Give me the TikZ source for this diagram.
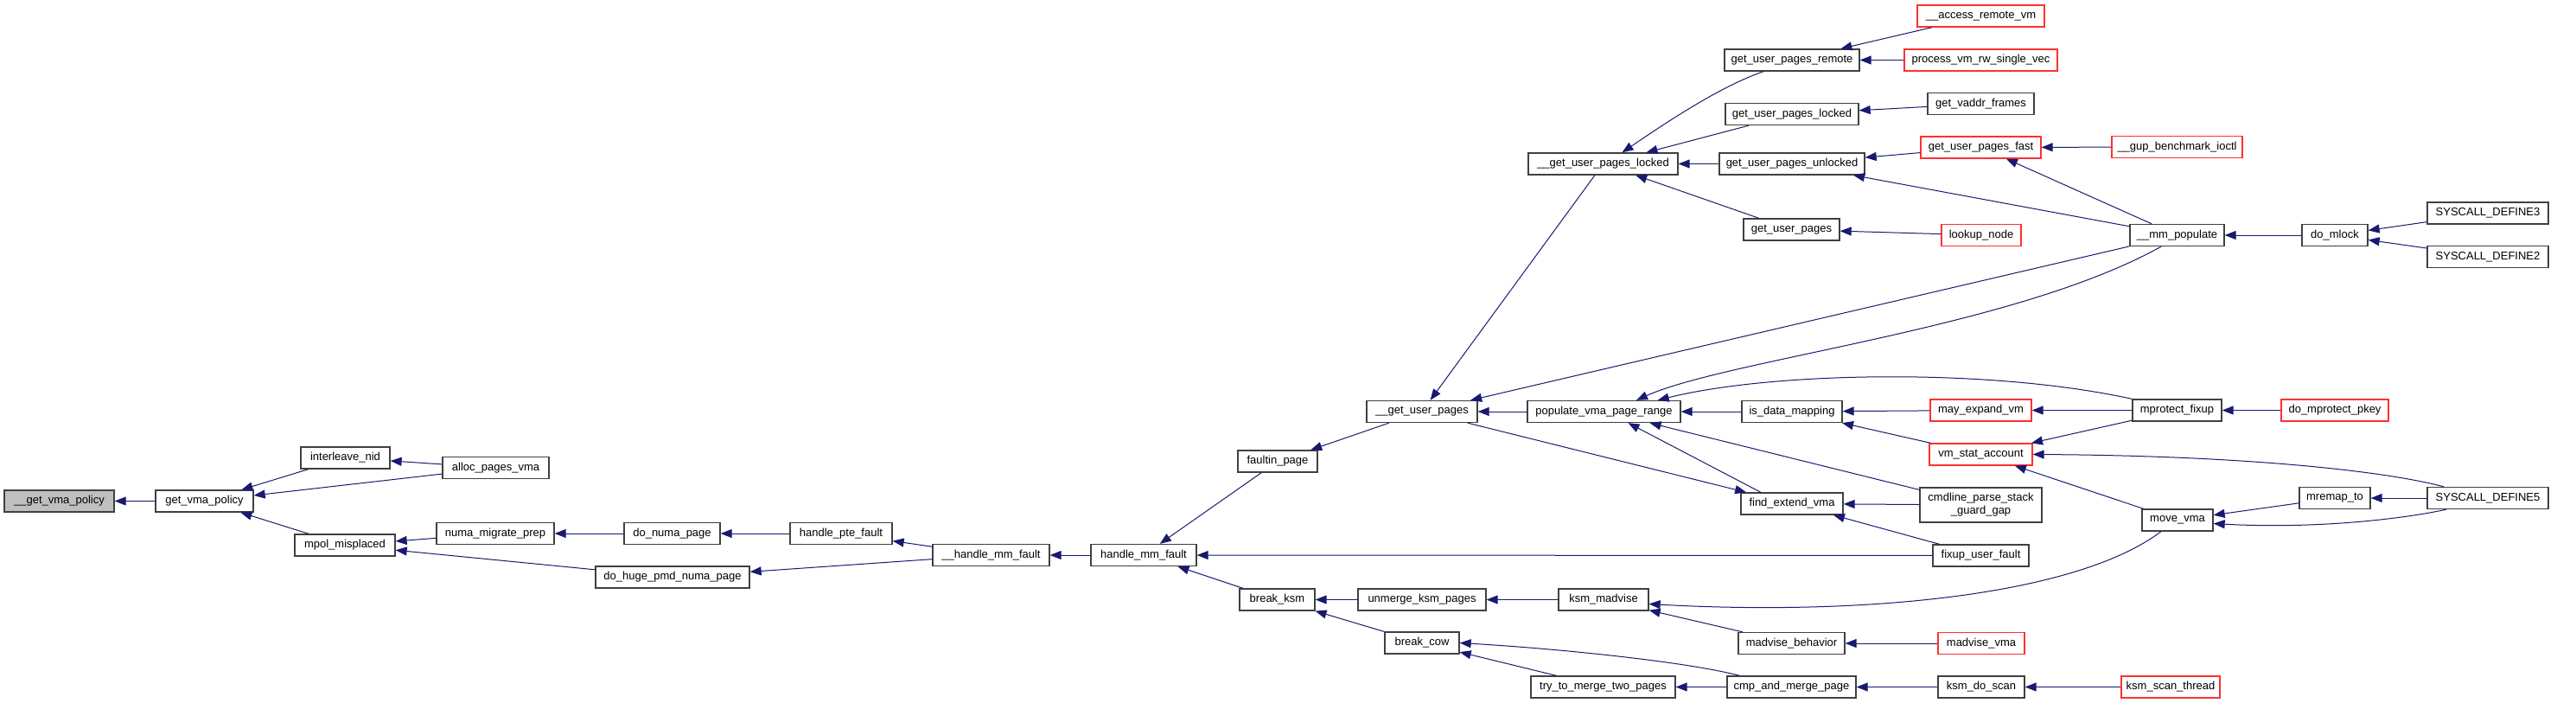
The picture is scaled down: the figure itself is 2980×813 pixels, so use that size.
\documentclass[tikz,border=0pt]{standalone}
\usepackage{fontspec}
\setmainfont{Liberation Sans}
\usetikzlibrary{arrows.meta}
\definecolor{edgeblue}{HTML}{191970}
\definecolor{rootgray}{HTML}{BFBFBF}
\definecolor{boxline}{HTML}{404040}
\definecolor{boxred}{HTML}{FF3030}
\begin{document}
\begin{tikzpicture}[x=1pt,y=-1pt,
    fn/.style={draw=boxline, line width=1.3pt, fill=white, minimum height=25pt,
      inner sep=1pt, font=\fontsize{13}{15}\selectfont},
    fnred/.style={fn, draw=boxred},
    fnroot/.style={fn, fill=rootgray},
    edge/.style={draw=edgeblue, line width=1pt, {Triangle[length=13pt,width=10pt]}-}]
    \useasboundingbox (0,0) rectangle (2980,813);

    % left part
    \node[fnroot, minimum width=127pt] (gvp0) at (68.5,579.5) {\_\_get\_vma\_policy};
    \node[fn, minimum width=113pt] (gvp) at (236.5,579.5) {get\_vma\_policy};
    \node[fn, minimum width=103pt] (ilnid) at (399.5,529.5) {interleave\_nid};
    \node[fn, minimum width=116pt] (mpolm) at (399,630.5) {mpol\_misplaced};
    \node[fn, minimum width=123pt] (apv) at (573.5,541) {alloc\_pages\_vma};
    \node[fn, minimum width=136pt] (nmp) at (573,617) {numa\_migrate\_prep};
    \node[fn, minimum width=111pt] (dnp) at (777.5,617) {do\_numa\_page};
    \node[fn, minimum width=118pt] (hpf) at (973,617) {handle\_pte\_fault};
    \node[fn, minimum width=178pt] (dhpnp) at (778,667.5) {do\_huge\_pmd\_numa\_page};
    \node[fn, minimum width=135pt] (hmf0) at (1146.5,642) {\_\_handle\_mm\_fault};
    \node[fn, minimum width=122pt] (hmf) at (1323,642) {handle\_mm\_fault};
    \node[fn, minimum width=92pt] (fip) at (1478,533.5) {faultin\_page};
    \node[fn, minimum width=128pt] (gup0) at (1645,476) {\_\_get\_user\_pages};
    \node[fn, minimum width=177pt] (pvpr) at (1855.5,476) {populate\_vma\_page\_range};
    \node[fn, minimum width=87pt] (bksm) at (1477.5,693.5) {break\_ksm};
    \node[fn, minimum width=148pt] (ukp) at (1645,693.5) {unmerge\_ksm\_pages};
    \node[fn, minimum width=104pt] (kmad) at (1855,693.5) {ksm\_madvise};
    \node[fn, minimum width=86pt] (bcow) at (1645,743.5) {break\_cow};
    \node[fn, minimum width=167pt] (tmtp) at (1854.5,794.5) {try\_to\_merge\_two\_pages};

    % get_user_pages family
    \node[fn, minimum width=173pt] (gupl0) at (1854.5,189.5) {\_\_get\_user\_pages\_locked};
    \node[fnred, minimum width=147pt] (arvm) at (2291.5,18.5) {\_\_access\_remote\_vm};
    \node[fn, minimum width=156pt] (gupr) at (2073,69.5) {get\_user\_pages\_remote};
    \node[fnred, minimum width=177pt] (pvrsv) at (2291.5,69.5) {process\_vm\_rw\_single\_vec};
    \node[fn, minimum width=154pt] (gupl) at (2073,132) {get\_user\_pages\_locked};
    \node[fn, minimum width=123pt] (gvf) at (2291.5,120) {get\_vaddr\_frames};
    \node[fnred, minimum width=139pt] (gupf) at (2291.5,170.5) {get\_user\_pages\_fast};
    \node[fn, minimum width=168pt] (gupu) at (2073,189.5) {get\_user\_pages\_unlocked};
    \node[fn, minimum width=111pt] (gup) at (2072.5,265.5) {get\_user\_pages};
    \node[fnred, minimum width=92pt] (lkn) at (2292,272) {lookup\_node};
    \node[fnred, minimum width=151pt] (gbi) at (2518.5,170) {\_\_gup\_benchmark\_ioctl};
    \node[fn, minimum width=109pt] (mmp) at (2518.5,272) {\_\_mm\_populate};
    \node[fn, minimum width=76pt] (dml) at (2701,272) {do\_mlock};
    \node[fn, minimum width=140pt] (sd3) at (2878,246.5) {SYSCALL\_DEFINE3};
    \node[fn, minimum width=140pt] (sd2) at (2878,297) {SYSCALL\_DEFINE2};

    % vma part
    \node[fn, minimum width=116pt] (idm) at (2073,476) {is\_data\_mapping};
    \node[fnred, minimum width=117pt] (mev) at (2291.5,474.5) {may\_expand\_vm};
    \node[fnred, minimum width=119pt] (vsa) at (2291.5,525.5) {vm\_stat\_account};
    \node[fn, minimum width=118pt] (fev) at (2073,582.5) {find\_extend\_vma};
    \node[fn, minimum width=141pt, minimum height=40pt, align=center] (cpsg) at (2291.5,584)
        {cmdline\_parse\_stack\\\_guard\_gap};
    \node[fn, minimum width=111pt] (fuf) at (2291.5,642.5) {fixup\_user\_fault};
    \node[fn, minimum width=103pt] (mpf) at (2518.5,474.5) {mprotect\_fixup};
    \node[fnred, minimum width=124pt] (dmp) at (2701,474.5) {do\_mprotect\_pkey};
    \node[fn, minimum width=82pt] (mvv) at (2519,601.5) {move\_vma};
    \node[fn, minimum width=82pt] (mrt) at (2701,576) {mremap\_to};
    \node[fn, minimum width=140pt] (sd5) at (2878,576) {SYSCALL\_DEFINE5};

    % ksm part
    \node[fn, minimum width=123pt] (mbh) at (2072.5,744) {madvise\_behavior};
    \node[fnred, minimum width=100pt] (mvma) at (2292,744) {madvise\_vma};
    \node[fn, minimum width=149pt] (cmp) at (2072.5,794.5) {cmp\_and\_merge\_page};
    \node[fn, minimum width=100pt] (kds) at (2292,794.5) {ksm\_do\_scan};
    \node[fnred, minimum width=114pt] (kst) at (2511,794.5) {ksm\_scan\_thread};

    % calls
    \draw[edge] (gvp0) -- (gvp);
    \draw[edge] (gvp) -- (ilnid);
    \draw[edge] (gvp) -- (apv);
    \draw[edge] (gvp) -- (mpolm);
    \draw[edge] (ilnid) -- (apv);
    \draw[edge] (mpolm) -- (nmp);
    \draw[edge] (mpolm) -- (dhpnp);
    \draw[edge] (nmp) -- (dnp);
    \draw[edge] (dnp) -- (hpf);
    \draw[edge] (hpf) -- (hmf0);
    \draw[edge] (dhpnp) -- (hmf0);
    \draw[edge] (hmf0) -- (hmf);
    \draw[edge] (hmf) -- (fip);
    \draw[edge] (hmf) -- (fuf);
    \draw[edge] (hmf) -- (bksm);
    \draw[edge] (fip) -- (gup0);
    \draw[edge] (gup0) -- (gupl0);
    \draw[edge] (gup0) -- (pvpr);
    \draw[edge] (gup0) -- (mmp);
    \draw[edge] (fev) -- (gup0);
    \draw[edge] ([xshift=28pt]pvpr.south) -- ([xshift=-36pt]fev.north);
    \draw[edge] (pvpr) -- (idm);
    \draw[edge] (pvpr) -- (cpsg);
    \draw[edge] ([xshift=37.5pt]pvpr.north) .. controls (2000,415) and (2330,380) .. ([xshift=-18.5pt]mmp.south);
    \draw[edge] ([xshift=-27pt]pvpr.north east) .. controls (2050,430) and (2300,425) .. (mpf.north west);
    \draw[edge] ([xshift=22pt]gupl0.north) .. controls (1930,140) and (1990,100) .. ([xshift=-33pt]gupr.south);
    \draw[edge] (gupl0) -- (gupl);
    \draw[edge] (gupl0) -- (gupu);
    \draw[edge] (gupl0) -- (gup);
    \draw[edge] (gupr) -- (arvm);
    \draw[edge] (gupr) -- (pvrsv);
    \draw[edge] (gupl) -- (gvf);
    \draw[edge] (gupu) -- (gupf);
    \draw[edge] (gupu) -- (mmp);
    \draw[edge] (gup) -- (lkn);
    \draw[edge] (gupf) -- (gbi);
    \draw[edge] (gupf) -- (mmp);
    \draw[edge] (mmp) -- (dml);
    \draw[edge] (dml) -- (sd3);
    \draw[edge] (dml) -- (sd2);
    \draw[edge] (idm) -- (mev);
    \draw[edge] (idm) -- (vsa);
    \draw[edge] (mev) -- (mpf);
    \draw[edge] (vsa) -- (mpf);
    \draw[edge] (vsa.east) .. controls (2600,527) and (2760,545) .. ([xshift=-51pt]sd5.north);
    \draw[edge] (vsa) -- (mvv);
    \draw[edge] (mvv) -- (mrt);
    \draw[edge] ([yshift=-4pt]mvv.east) .. controls (2680,612) and (2780,600) .. ([xshift=-48pt]sd5.south);
    \draw[edge] (mrt) -- (sd5);
    \draw[edge] (mpf) -- (dmp);
    \draw[edge] ([yshift=-5pt]kmad.east) .. controls (2150,712) and (2400,690) .. ([xshift=-19pt]mvv.south);
    \draw[edge] (kmad) -- (mbh);
    \draw[edge] (mbh) -- (mvma);
    \draw[edge] (ukp) -- (kmad);
    \draw[edge] (bksm) -- (ukp);
    \draw[edge] (bksm) -- (bcow);
    \draw[edge] (bcow.east) .. controls (1800,750) and (1950,765) .. ([xshift=15pt]cmp.north west);
    \draw[edge] (bcow) -- (tmtp);
    \draw[edge] (tmtp) -- (cmp);
    \draw[edge] (cmp) -- (kds);
    \draw[edge] (kds) -- (kst);
    \draw[edge] (fev) -- (cpsg);
    \draw[edge] (fev) -- (fuf);
\end{tikzpicture}
\end{document}
